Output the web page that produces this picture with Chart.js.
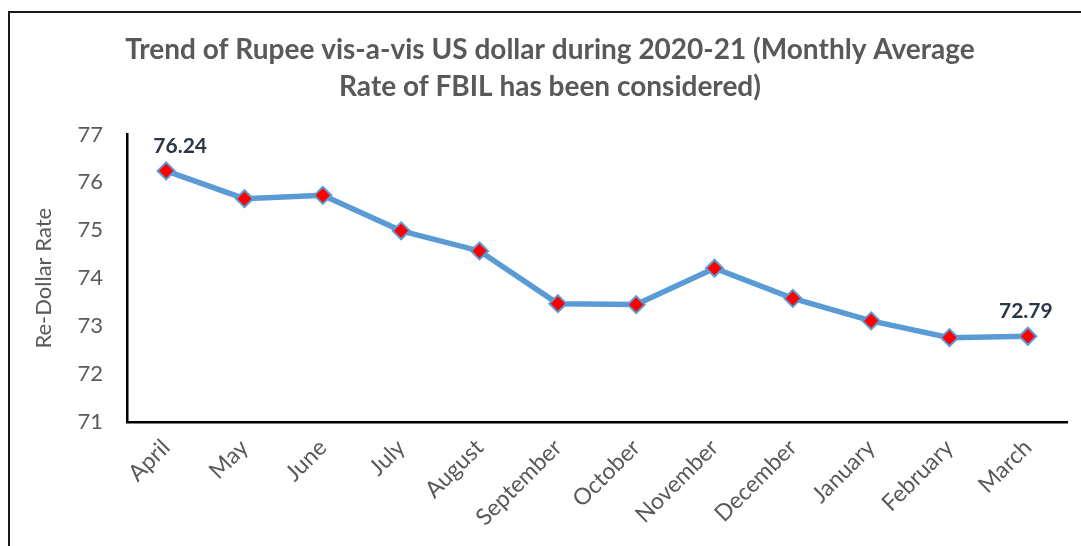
<!DOCTYPE html>
<html>
<head>
<meta charset="utf-8">
<script src="https://cdn.jsdelivr.net/npm/chart.js@4"></script>
<style>
  html, body { margin: 0; padding: 0; background: #fff; }
  #wrap { position: relative; width: 1081px; height: 546px; overflow: hidden; }
  #frame { position: absolute; left: 8px; top: 11px; width: 1090px; height: 560px;
           border-top: 2px solid #1a1a1a; border-left: 2px solid #1a1a1a; pointer-events: none; }
  canvas { position: absolute; left: 0; top: 0; }
</style>
</head>
<body>
<div id="wrap">
  <canvas id="c" width="1081" height="546"></canvas>
  <div id="frame"></div>
</div>
<script>
const categories = ["April","May","June","July","August","September","October","November","December","January","February","March"];
const rates = [76.24, 75.66, 75.73, 74.99, 74.57, 73.47, 73.45, 74.21, 73.58, 73.11, 72.76, 72.79];
const yTicks = [71, 72, 73, 74, 75, 76, 77];
const titleLines = ["Trend of Rupee vis-a-vis US dollar during 2020-21 (Monthly Average", "Rate of FBIL has been considered)"];
const yAxisTitle = "Re-Dollar Rate";
const labelledIdx = [0, categories.length - 1];

const FONT = "Lato, 'Open Sans', sans-serif";

const dataLabelPlugin = {
  id: 'dataLabels',
  afterDatasetsDraw(chart, args, opts) {
    const ctx = chart.ctx;
    const meta = chart.getDatasetMeta(0);
    ctx.save();
    ctx.font = "bold 21px " + FONT;
    ctx.fillStyle = "#2b3647";
    ctx.textAlign = "center";
    ctx.textBaseline = "middle";
    labelledIdx.forEach((i, k) => {
      const p = meta.data[i];
      const dx = opts.dx[k];
      ctx.fillText(rates[i].toFixed(2), p.x + dx, p.y - 25);
    });
    ctx.restore();
  }
};

new Chart(document.getElementById('c'), {
  type: 'line',
  data: {
    labels: categories,
    datasets: [{
      data: rates,
      borderColor: '#5b9bd5',
      borderWidth: 5.5,
      pointStyle: 'rectRot',
      pointRadius: 8.5,
      pointBackgroundColor: '#ff0000',
      pointBorderColor: '#5b9bd5',
      pointBorderWidth: 2,
      tension: 0,
      clip: false
    }]
  },
  options: {
    responsive: false,
    animation: false,
    events: [],
    layout: { padding: { left: 33, right: 14, top: 0, bottom: 0 } },
    plugins: {
      legend: { display: false },
      tooltip: { enabled: false },
      title: {
        display: true,
        text: titleLines,
        color: '#595959',
        font: { family: FONT, size: 28, weight: 'bold', lineHeight: 1.33 },
        padding: { top: 31, bottom: 29 }
      },
      dataLabels: { dx: [14, -2] }
    },
    scales: {
      x: {
        offset: true,
        grid: { display: false, drawTicks: false },
        border: { display: true, color: '#000', width: 2.5 },
        ticks: { color: '#595959', font: { family: FONT, size: 23 }, minRotation: 45, maxRotation: 45, padding: 12, autoSkip: false },
        afterFit(s) { s.height = 124; }
      },
      y: {
        min: 71, max: 77,
        grid: { display: false, drawTicks: false },
        border: { display: true, color: '#000', width: 2.5 },
        afterBuildTicks(s) { s.ticks = yTicks.map(v => ({ value: v })); },
        ticks: { color: '#595959', font: { family: FONT, size: 22 }, padding: 24 },
        title: { display: true, text: yAxisTitle, color: '#595959', font: { family: FONT, size: 22 }, padding: { top: -2, bottom: 0 } },
        afterFit(s) { s.width = 94; }
      }
    }
  },
  plugins: [dataLabelPlugin]
});
</script>
</body>
</html>
